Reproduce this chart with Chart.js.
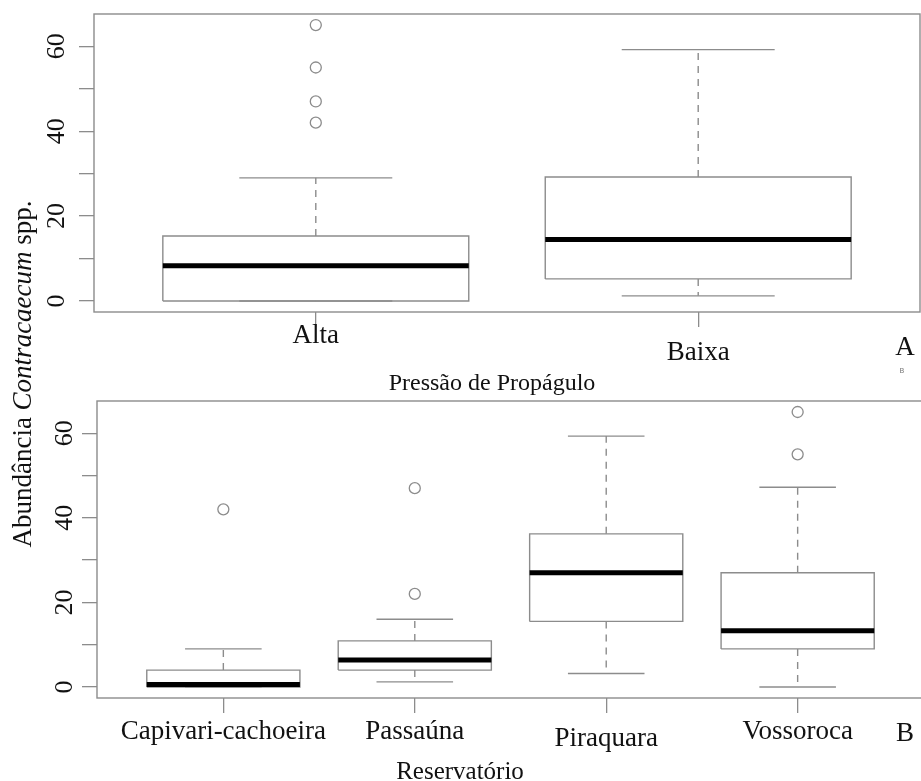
<!DOCTYPE html>
<html><head><meta charset="utf-8">
<script src="https://cdn.jsdelivr.net/npm/chart.js@4"></script>
<style>
html,body{margin:0;padding:0;background:#fff;}
#wrap{position:relative;width:921px;height:781px;overflow:hidden;background:#fff;}
canvas{position:absolute;left:0;top:0;}
</style></head><body>
<div id="wrap"><canvas id="c1" width="921" height="781"></canvas><canvas id="c2" width="930" height="781"></canvas></div>
<script>
// ---- Panel A: Pressão de Propágulo ----
const catsA = ['Alta', 'Baixa'];
const lowA  = [0, 1.2];
const q1A   = [0, 5.2];
const medA  = [8.3, 14.5];
const q3A   = [15.3, 29.2];
const highA = [29, 59.2];
const outA  = [[42, 47, 55, 65], []];
// ---- Panel B: Reservatório ----
const catsB = ['Capivari-cachoeira', 'Passaúna', 'Piraquara', 'Vossoroca'];
const lowB  = [0, 1.2, 3.2, 0];
const q1B   = [0, 4, 15.5, 9];
const medB  = [0.6, 6.4, 27, 13.3];
const q3B   = [4, 10.9, 36.2, 27];
const highB = [9, 16, 59.3, 47.2];
const outB  = [[42], [22, 47], [], [55, 65]];
// ---- axis ----
const yTicks  = [0, 10, 20, 30, 40, 50, 60];
const yLabels = ['0', '', '20', '', '40', '', '60'];
const yTitle  = ['Abundância ', 'Contracaecum', ' spp.'];
const xTitleA = 'Pressão de Propágulo';
const xTitleB = 'Reservatório';

const GREY = '#8c8c8c';
const SERIF = '"Liberation Serif", "Times New Roman", serif';

function boxDatasets(low, q1, med, q3, high, outs) {
  const ds = [];
  const line = (pts, extra) => Object.assign({data: pts, showLine: true, pointRadius: 0,
      borderColor: GREY, borderWidth: 1.4, borderJoinStyle: 'miter', borderCapStyle: 'butt', tension: 0}, extra || {});
  med.forEach((m, i) => {
    const x = i + 1;
    ds.push(line([{x: x - 0.4, y: m}, {x: x + 0.4, y: m}], {borderColor: '#000', borderWidth: 5}));
  });
  q1.forEach((v, i) => {
    const x = i + 1;
    ds.push(line([{x: x - 0.4, y: q1[i]}, {x: x + 0.4, y: q1[i]}, {x: x + 0.4, y: q3[i]},
                  {x: x - 0.4, y: q3[i]}, {x: x - 0.4, y: q1[i]}]));
    ds.push(line([{x: x, y: q3[i]}, {x: x, y: high[i]}], {borderDash: [7, 6]}));
    ds.push(line([{x: x, y: q1[i]}, {x: x, y: low[i]}], {borderDash: [7, 6]}));
    ds.push(line([{x: x - 0.2, y: high[i]}, {x: x + 0.2, y: high[i]}]));
    ds.push(line([{x: x - 0.2, y: low[i]}, {x: x + 0.2, y: low[i]}]));
  });
  ds.push({data: outs.flatMap((a, i) => a.map(v => ({x: i + 1, y: v}))), showLine: false,
    pointRadius: 5.5, pointBorderColor: GREY, pointBackgroundColor: 'rgba(0,0,0,0)', pointBorderWidth: 1.3});
  return ds;
}

function txt(ctx, s, x, y, font, align, color) {
  ctx.save(); ctx.font = font; ctx.fillStyle = color || '#111';
  ctx.textAlign = align || 'center'; ctx.textBaseline = 'alphabetic';
  ctx.fillText(s, x, y); ctx.restore();
}

function makeChart(id, cats, low, q1, med, q3, high, outs, lay) {
  const n = cats.length;
  const ext = n * 0.04;
  const framePlugin = {
    id: 'frame_' + id,
    afterDraw(chart) {
      const ctx = chart.ctx, a = chart.chartArea;
      ctx.save();
      ctx.strokeStyle = GREY; ctx.lineWidth = 1.4;
      ctx.strokeRect(a.left, a.top, a.right - a.left, a.bottom - a.top);
      // y tick labels (rotated like R)
      const ys = chart.scales.y;
      ctx.font = '26px ' + SERIF; ctx.fillStyle = '#111';
      ctx.textAlign = 'center'; ctx.textBaseline = 'middle';
      yTicks.forEach((v, i) => {
        if (!yLabels[i]) return;
        ctx.save();
        ctx.translate(a.left - lay.yLabOff, ys.getPixelForValue(v));
        ctx.rotate(-Math.PI / 2);
        ctx.fillText(yLabels[i], 0, 0);
        ctx.restore();
      });
      // x category labels
      const xs = chart.scales.x;
      cats.forEach((c, i) => {
        txt(ctx, c, xs.getPixelForValue(i + 1), a.bottom + lay.xLabBase + (lay.drop[i] || 0), '27px ' + SERIF);
      });
      ctx.restore();
      if (lay.extra) lay.extra(ctx, chart);
    }
  };
  return new Chart(document.getElementById(id), {
    type: 'scatter',
    data: {datasets: boxDatasets(low, q1, med, q3, high, outs)},
    options: {
      responsive: false, animation: false, events: [],
      layout: {padding: lay.padding, autoPadding: false},
      plugins: {legend: {display: false}, tooltip: {enabled: false}},
      scales: {
        x: {type: 'linear', min: 0.5 - ext, max: n + 0.5 + ext,
          afterBuildTicks: s => { s.ticks = cats.map((c, i) => ({value: i + 1})); },
          afterFit: s => { s.height = 20; },
          ticks: {display: false},
          grid: {drawOnChartArea: false, drawTicks: true, tickLength: 15, color: GREY, lineWidth: 1.3},
          border: {display: false}},
        y: {type: 'linear', min: -2.6, max: 67.6,
          afterBuildTicks: s => { s.ticks = yTicks.map(v => ({value: v})); },
          afterFit: s => { s.width = lay.yWidth; },
          ticks: {display: false},
          grid: {drawOnChartArea: false, drawTicks: true, tickLength: 15, color: GREY, lineWidth: 1.3},
          border: {display: false}}
      }
    },
    plugins: [framePlugin]
  });
}

makeChart('c1', catsA, lowA, q1A, medA, q3A, highA, outA, {
  padding: {left: 0, top: 14, right: 1, bottom: 781 - 312 - 20},
  yWidth: 94, yLabOff: 37, xLabBase: 31, drop: [0, 17],
  extra(ctx) {
    txt(ctx, 'A', 905, 355, '27px ' + SERIF);
    txt(ctx, xTitleA, 492, 390, '24px ' + SERIF);
    txt(ctx, 'B', 902, 373, '7px "DejaVu Sans", sans-serif', 'center', '#777');
    // y-axis title spanning both panels
    ctx.save();
    const fonts = ['27px ' + SERIF, 'italic 27px ' + SERIF, '27px ' + SERIF];
    const widths = yTitle.map((s, i) => { ctx.font = fonts[i]; return ctx.measureText(s).width; });
    const W = widths.reduce((p, c) => p + c, 0);
    ctx.translate(31, 374);
    ctx.rotate(-Math.PI / 2);
    ctx.fillStyle = '#111'; ctx.textBaseline = 'alphabetic'; ctx.textAlign = 'left';
    let cx = -W / 2;
    yTitle.forEach((s, i) => { ctx.font = fonts[i]; ctx.fillText(s, cx, 0); cx += widths[i]; });
    ctx.restore();
  }
});

makeChart('c2', catsB, lowB, q1B, medB, q3B, highB, outB, {
  padding: {left: 0, top: 401, right: 6, bottom: 781 - 698 - 20},
  yWidth: 97, yLabOff: 32, xLabBase: 41, drop: [0, 0, 7, 0],
  extra(ctx) {
    txt(ctx, 'B', 905, 741, '27px ' + SERIF);
    txt(ctx, xTitleB, 460, 779, '25px ' + SERIF);
  }
});
</script>
</body></html>
